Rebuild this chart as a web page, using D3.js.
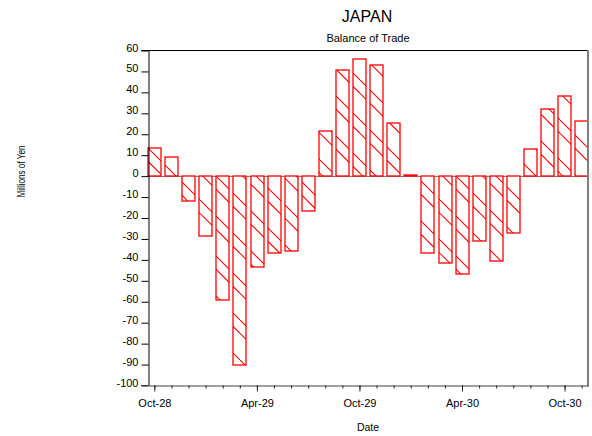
<!DOCTYPE html>
<html><head><meta charset="utf-8">
<script src="https://cdn.jsdelivr.net/npm/d3@7"></script>
<style>
html,body{margin:0;padding:0;background:#fff;}
text{font-family:"Liberation Sans",Arial,sans-serif;fill:#000;}
</style></head>
<body><svg id="c" width="592" height="436"></svg>
<script>
const months = ["Oct-28","Nov-28","Dec-28","Jan-29","Feb-29","Mar-29","Apr-29","May-29","Jun-29","Jul-29","Aug-29","Sep-29",
  "Oct-29","Nov-29","Dec-29","Jan-30","Feb-30","Mar-30","Apr-30","May-30","Jun-30","Jul-30","Aug-30","Sep-30","Oct-30","Nov-30"];
const values = [13, 9, -12, -29, -59.3, -90.4, -43.8, -37, -36, -16.7, 21.2, 50.6,
  55.8, 53, 25.2, 0.3, -37, -41.5, -47, -31.4, -40.7, -27.4, 12.9, 31.9, 38.1, 26.3];
const majorTicks = ["Oct-28","Apr-29","Oct-29","Apr-30","Oct-30"];
const yTicks = [-100,-90,-80,-70,-60,-50,-40,-30,-20,-10,0,10,20,30,40,50,60];

const svg = d3.select("#c");
const L = 148, R = 588, T = 50, B = 385;
const x = d3.scaleBand().domain(months).range([L, R]).paddingInner(0.256).paddingOuter(0);
const y = d3.scaleLinear().domain([-100, 60]).range([B, T]);

// hatch pattern
const defs = svg.append("defs");
const pat = defs.append("pattern").attr("id","hatch").attr("patternUnits","userSpaceOnUse")
  .attr("width",40).attr("height",40);
pat.append("rect").attr("width",40).attr("height",40).attr("fill","#fff");
[[0,0,40,40],[0,13.3,26.7,40],[26.7,0,40,13.3]].forEach(s=>{
  pat.append("line").attr("x1",s[0]).attr("y1",s[1]).attr("x2",s[2]).attr("y2",s[3])
    .attr("stroke","#ff0000").attr("stroke-width",1.1);
});

// titles
svg.append("text").attr("x",367).attr("y",22).attr("text-anchor","middle").attr("font-size",16).text("JAPAN");
svg.append("text").attr("x",368).attr("y",42).attr("text-anchor","middle").attr("font-size",11).text("Balance of Trade");
svg.append("text").attr("transform","translate(24.5,171.5) rotate(-90)").attr("text-anchor","middle")
  .attr("font-size",10).attr("textLength",52).attr("lengthAdjust","spacingAndGlyphs").text("Millions of Yen");
svg.append("text").attr("x",368).attr("y",430.5).attr("text-anchor","middle").attr("font-size",10.5).text("Date");

// zero line
svg.append("line").attr("x1",L).attr("x2",R).attr("y1",Math.round(y(0))+0.5).attr("y2",Math.round(y(0))+0.5)
  .attr("stroke","#808080").attr("stroke-width",1);

// bars
svg.append("g").selectAll("rect").data(values).join("rect")
  .attr("x",(d,i)=>Math.round(x(months[i])))
  .attr("width",Math.round(x.bandwidth()))
  .attr("y",d=>Math.round(y(Math.max(0,d))))
  .attr("height",d=>Math.max(0.01,Math.abs(Math.round(y(d))-Math.round(y(0)))))
  .attr("fill","url(#hatch)").style("stroke","#ff0000").style("stroke-width","1.3px");

// frame top & right
svg.append("line").attr("x1",141).attr("x2",R).attr("y1",T+0.5).attr("y2",T+0.5).attr("stroke","#000");
svg.append("line").attr("x1",R).attr("x2",R).attr("y1",T).attr("y2",B+1).attr("stroke","#808080").attr("stroke-width",2);

// y axis
const ya = svg.append("g").attr("transform",`translate(${L+0.5},0.5)`)
  .call(d3.axisLeft(y).tickValues(yTicks).tickSize(7).tickPadding(3).tickSizeOuter(0).tickFormat(d=>String(d)));
ya.select(".domain").attr("stroke","#000");
ya.selectAll(".tick line").attr("stroke","#000");
ya.selectAll("text").attr("font-size",11).attr("dy",0.5).attr("font-family","'Liberation Sans',Arial,sans-serif").attr("fill","#000");

// x axis minor
const xa = svg.append("g").attr("transform",`translate(0.5,${B+0.5})`)
  .call(d3.axisBottom(x).tickValues(months).tickSize(3).tickFormat("").tickSizeOuter(0));
xa.select(".domain").attr("stroke","#404040");
xa.selectAll(".tick line").attr("stroke","#202020");
// x axis major
const xb = svg.append("g").attr("transform",`translate(0.5,${B+0.5})`)
  .call(d3.axisBottom(x).tickValues(majorTicks).tickSize(6).tickSizeOuter(0));
xb.select(".domain").remove();
xb.selectAll(".tick line").attr("stroke","#202020");
xb.selectAll("text").attr("font-size",11).attr("y",21).attr("dy",0).attr("font-family","'Liberation Sans',Arial,sans-serif").attr("fill","#000");
svg.append("line").attr("x1",141).attr("x2",L).attr("y1",B+0.5).attr("y2",B+0.5).attr("stroke","#404040");
</script></body></html>
